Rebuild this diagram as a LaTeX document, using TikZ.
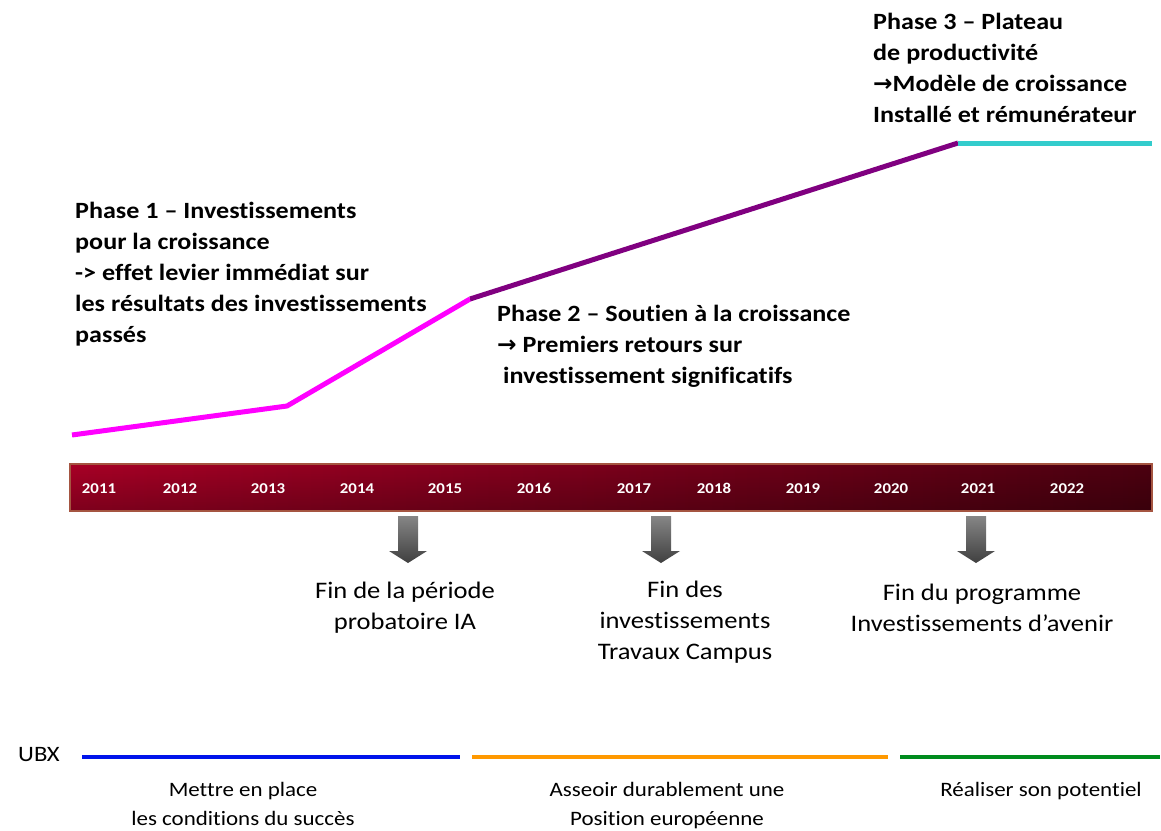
\documentclass[tikz,border=0pt]{standalone}
\usepackage{fontspec}
\setmainfont{Carlito}[FakeStretch=1.12, Ligatures=NoCommon]
\newfontfamily\arrowfont{DejaVu Sans}
\usetikzlibrary{calc}
\usetikzlibrary{fadings}
\definecolor{phaseone}{RGB}{255,0,255}
\definecolor{phasetwo}{RGB}{128,0,128}
\definecolor{phasethree}{RGB}{51,204,204}
\definecolor{barleft}{RGB}{168,0,38}
\definecolor{barright}{RGB}{76,0,16}
\definecolor{barrim}{RGB}{165,85,65}
\definecolor{ubxblue}{RGB}{0,20,235}
\definecolor{ubxorange}{RGB}{255,153,0}
\definecolor{ubxgreen}{RGB}{0,140,30}

\begin{document}
\begin{tikzpicture}[x=1pt, y=-1pt]
        % ================= styles =================
        \tikzset{
            % trend curve
            trend/.style={line width=5pt, line cap=butt, line join=round},
            % phase texts
            phasetext/.style={anchor=north west, align=left, inner sep=0pt,
                font=\bfseries\fontsize{23.3}{31}\selectfont},
            % years in the bar
            yearlbl/.style={anchor=base, text=white, inner sep=0pt, font=\bfseries\fontsize{15}{17}\selectfont},
            % texts below the arrows
            endtext/.style={anchor=north, align=center, inner sep=0pt,
                font=\fontsize{23.7}{31}\selectfont},
            % UBX lines and goals
            ubxline/.style={line width=3.5pt},
            goaltext/.style={anchor=north, align=center, inner sep=0pt,
                font=\fontsize{20.5}{29}\selectfont}
        }
        \useasboundingbox (0,0) rectangle (1161,830);

        % ================= 1. trend =================
        \coordinate (start) at (72,435);
        \coordinate (knee) at (287,406);
        \coordinate (p12) at (470,299);
        \coordinate (p23) at (958,143);
        \coordinate (stop) at (1152,143);

        \draw[trend, phaseone] (start) -- (knee) -- (p12);
        \draw[trend, phasetwo] (p12) -- (p23);
        \draw[trend, phasethree] (p23) -- (stop);

        \node[phasetext] (phase1) at (75,202)
            {Phase 1 -- Investissements\\pour la croissance\\-> effet levier imm\'ediat sur\\les r\'esultats des investissements\\pass\'es};
        \node[phasetext] (phase2) at (497,305)
            {Phase 2 -- Soutien \`a la croissance\\{\arrowfont →} Premiers retours sur\\\ investissement significatifs};
        \node[phasetext] (phase3) at (873,12.5)
            {Phase 3 -- Plateau\\de productivit\'e\\{\arrowfont →}Mod\`ele de croissance\\Install\'e et r\'emun\'erateur};

        % ================= 2. timeline bar =================
        \shade[left color=barleft, right color=barright] (70,464) rectangle (1152,511);
        \fill[black, opacity=0.25, path fading=north] (70,464) rectangle (1152,511);
        \draw[barrim, line width=2.5pt] (70,464) rectangle (1152,511);

        \foreach \yr/\xx in {2011/99, 2012/180, 2013/268, 2014/357, 2015/445, 2016/534,
                             2017/634, 2018/714, 2019/803, 2020/891, 2021/978, 2022/1067}
            \node[yearlbl] (y\yr) at (\xx,493) {\yr};

        % ================= 3. arrows and milestones =================
        \foreach \ax/\nm in {408/a, 661/b, 976/c} {
            \shade[top color=gray!95, bottom color=black!75]
                ({\ax-10},516) -- ({\ax+10},516) -- ({\ax+10},551) -- ({\ax+19},551)
                -- (\ax,563) -- ({\ax-19},551) -- ({\ax-10},551) -- cycle;
            \coordinate (tip\nm) at (\ax,563);
        }

        \node[endtext] (end1) at (405,582) {Fin de la p\'eriode\\probatoire IA};
        \node[endtext] (end2) at (685,581) {Fin des\\investissements\\Travaux Campus};
        \node[endtext] (end3) at (982,584) {Fin du programme\\Investissements d'avenir};

        % ================= 4. UBX =================
        \node[anchor=west, inner sep=0pt, font=\fontsize{22}{26}\selectfont] (ubx) at (18,755) {UBX};

        \coordinate (b1) at (82,757);  \coordinate (b2) at (460,757);
        \coordinate (o1) at (472,757); \coordinate (o2) at (888,757);
        \coordinate (g1) at (900,757); \coordinate (g2) at (1160,757);

        \draw[ubxline, ubxblue] (b1) -- (b2);
        \draw[ubxline, ubxorange] (o1) -- (o2);
        \draw[ubxline, ubxgreen] (g1) -- (g2);

        \node[goaltext] (goal1) at (243,782) {Mettre en place\\les conditions du succ\`es};
        \node[goaltext] (goal2) at (667,782) {Asseoir durablement une\\Position europ\'eenne};
        \node[goaltext] (goal3) at (1041,782) {R\'ealiser son potentiel};

    \end{tikzpicture}
\end{document}
